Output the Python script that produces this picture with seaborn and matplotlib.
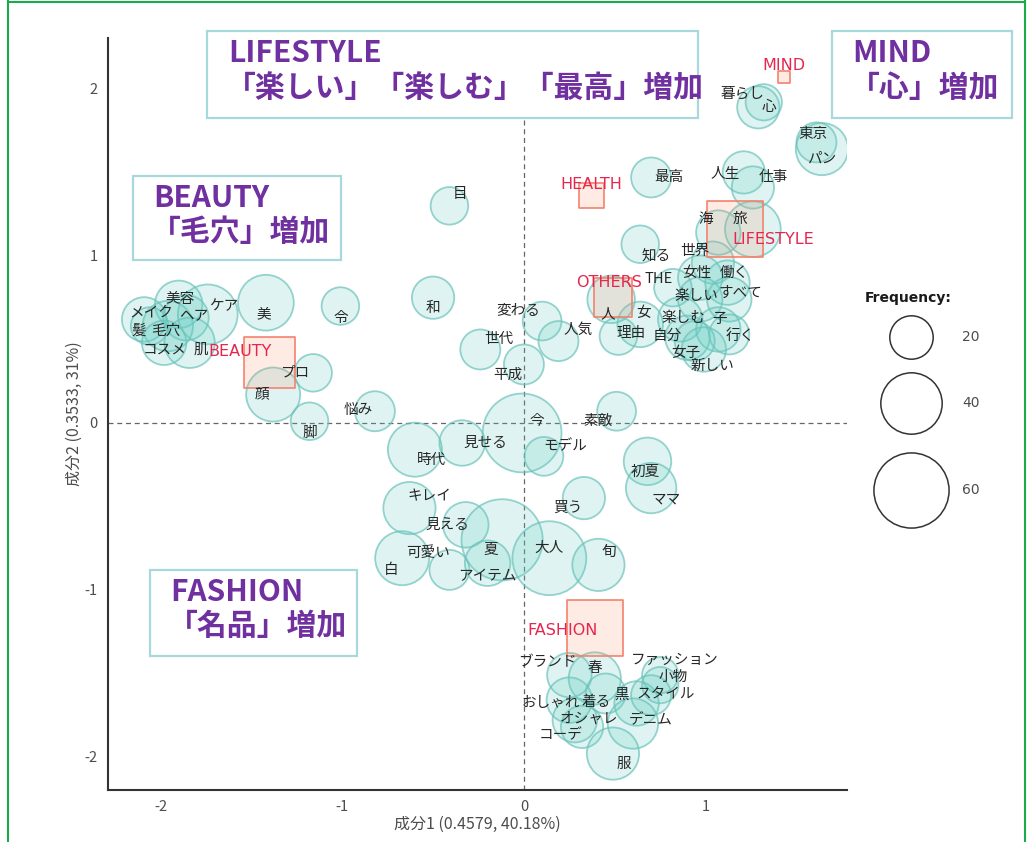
import numpy as np
import pandas as pd
import matplotlib
matplotlib.use("Agg")
import matplotlib.pyplot as plt
import seaborn as sns
from matplotlib.patches import Rectangle
from matplotlib.lines import Line2D


# ---------------------------------------------------------------------
# Data (component scores)
# ---------------------------------------------------------------------
words = ["暮らし", "心", "東京", "パン", "最高", "人生", "仕事", "海", "旅", "知る",
         "世界", "女性", "働く", "THE", "楽しい", "すべて", "人", "女", "理由", "楽しむ",
         "子", "自分", "行く", "女子", "新しい", "目", "美容", "メイク", "ヘア", "髪",
         "毛穴", "コスメ", "肌", "ケア", "美", "令", "和", "プロ", "顔", "脚",
         "悩み", "変わる", "人気", "世代", "平成", "今", "見せる", "時代", "モデル", "素敵",
         "初夏", "ママ", "買う", "キレイ", "見える", "夏", "可愛い", "白", "アイテム", "大人",
         "旬", "ブランド", "春", "おしゃれ", "着る", "黒", "ファッション", "小物", "スタイル", "オシャレ",
         "デニム", "コーデ", "服"]
word_x = [1.29, 1.32, 1.61, 1.64, 0.70, 1.21, 1.26, 1.07, 1.26, 0.64,
          1.04, 0.97, 1.12, 0.82, 0.97, 1.13, 0.48, 0.64, 0.52, 0.86,
          1.07, 0.90, 1.13, 0.94, 0.99, -0.41, -1.90, -2.09, -1.86, -2.06,
          -1.96, -1.98, -1.84, -1.74, -1.42, -1.01, -0.50, -1.16, -1.38, -1.18,
          -0.82, 0.10, 0.19, -0.24, 0.00, -0.01, -0.34, -0.60, 0.11, 0.51,
          0.68, 0.70, 0.33, -0.63, -0.32, -0.12, -0.41, -0.67, -0.20, 0.14,
          0.41, 0.25, 0.39, 0.25, 0.45, 0.62, 0.75, 0.75, 0.70, 0.32,
          0.60, 0.28, 0.49]
word_y = [1.89, 1.92, 1.68, 1.64, 1.47, 1.50, 1.41, 1.14, 1.16, 1.07,
          0.96, 0.87, 0.84, 0.81, 0.74, 0.74, 0.74, 0.59, 0.52, 0.62,
          0.56, 0.51, 0.53, 0.49, 0.44, 1.30, 0.71, 0.62, 0.63, 0.58,
          0.58, 0.48, 0.48, 0.65, 0.72, 0.70, 0.75, 0.30, 0.17, 0.01,
          0.07, 0.61, 0.49, 0.44, 0.35, -0.06, -0.12, -0.16, -0.20, 0.07,
          -0.23, -0.39, -0.45, -0.51, -0.61, -0.70, -0.88, -0.81, -0.84, -0.81,
          -0.85, -1.51, -1.53, -1.66, -1.62, -1.68, -1.51, -1.57, -1.63, -1.82,
          -1.80, -1.78, -1.98]
word_freq = [19, 14, 17, 29, 17, 19, 19, 21, 33, 15,
             19, 21, 21, 15, 21, 21, 24, 22, 15, 21,
             21, 21, 17, 17, 21, 15, 24, 21, 22, 15,
             27, 21, 27, 38, 33, 15, 19, 15, 31, 15,
             17, 16, 17, 17, 17, 66, 22, 31, 16, 16,
             24, 27, 19, 29, 22, 70, 17, 31, 22, 58,
             29, 21, 29, 22, 17, 21, 14, 14, 17, 19,
             27, 21, 29]
label_x = [1.20, 1.35, 1.59, 1.64, 0.80, 1.11, 1.37, 1.00, 1.19, 0.73,
           0.94, 0.95, 1.16, 0.74, 0.95, 1.19, 0.46, 0.66, 0.59, 0.88,
           1.08, 0.79, 1.19, 0.89, 1.04, -0.35, -1.89, -2.05, -1.82, -2.12,
           -1.97, -1.98, -1.78, -1.65, -1.43, -1.01, -0.50, -1.26, -1.44, -1.18,
           -0.91, -0.03, 0.30, -0.14, -0.09, 0.07, -0.21, -0.51, 0.23, 0.41,
           0.67, 0.78, 0.24, -0.52, -0.42, -0.18, -0.53, -0.73, -0.20, 0.14,
           0.47, 0.13, 0.39, 0.15, 0.40, 0.54, 0.83, 0.82, 0.78, 0.36,
           0.70, 0.20, 0.55]
label_y = [1.97, 1.89, 1.73, 1.58, 1.47, 1.49, 1.47, 1.22, 1.22, 1.00,
           1.03, 0.90, 0.90, 0.86, 0.76, 0.78, 0.65, 0.66, 0.54, 0.63,
           0.62, 0.52, 0.52, 0.42, 0.34, 1.37, 0.74, 0.66, 0.64, 0.55,
           0.55, 0.44, 0.44, 0.70, 0.65, 0.63, 0.69, 0.30, 0.17, -0.06,
           0.08, 0.67, 0.56, 0.50, 0.29, 0.01, -0.12, -0.22, -0.14, 0.01,
           -0.29, -0.46, -0.51, -0.44, -0.61, -0.76, -0.78, -0.88, -0.92, -0.75,
           -0.77, -1.43, -1.47, -1.68, -1.67, -1.63, -1.42, -1.52, -1.62, -1.77,
           -1.78, -1.87, -2.04]

cat_names = ["MIND", "HEALTH", "LIFESTYLE", "OTHERS", "BEAUTY", "FASHION"]
cat_x = [1.43, 0.37, 1.16, 0.49, -1.40, 0.39]
cat_y = [2.07, 1.36, 1.16, 0.75, 0.36, -1.23]
cat_n = [1.5, 6.6, 33, 16, 27.5, 33]
cat_label_x = [1.43, 0.37, 1.37, 0.47, -1.56, 0.21]
cat_label_y = [2.14, 1.43, 1.10, 0.84, 0.43, -1.24]

legend_freq = [20, 40, 60]

PT_AREA = 48.8  # marker area (pt^2) per unit of frequency


# ---------------------------------------------------------------------
# Figure
# ---------------------------------------------------------------------
W, H = 1032, 842
sns.set_style("white")
plt.rcParams["font.family"] = ["Noto Sans CJK JP", "DejaVu Sans"]

fig = plt.figure(figsize=(W / 100, H / 100), dpi=100)
ax = fig.add_axes([108 / W, 1 - 790 / H, (847 - 108) / W, (790 - 38) / H])

df = pd.DataFrame({"x": word_x, "y": word_y, "freq": word_freq})
fmin, fmax = min(word_freq), max(word_freq)
sns.scatterplot(data=df, x="x", y="y", size="freq",
                sizes=(PT_AREA * fmin, PT_AREA * fmax), size_norm=(fmin, fmax),
                legend=False, ax=ax, zorder=2, linewidth=1.3)
bubbles = ax.collections[-1]
bubbles.set_facecolor((0.39, 0.80, 0.76, 0.2))
bubbles.set_edgecolor((0.42, 0.76, 0.73, 0.7))

cdf = pd.DataFrame({"x": cat_x, "y": cat_y, "n": cat_n})
cmin, cmax = min(cat_n), max(cat_n)
sns.scatterplot(data=cdf, x="x", y="y", size="n", marker="s",
                sizes=(PT_AREA * cmin, PT_AREA * cmax), size_norm=(cmin, cmax),
                legend=False, ax=ax, zorder=3, linewidth=1.2)
squares = ax.collections[-1]
squares.set_facecolor((0.96, 0.57, 0.43, 0.18))
squares.set_edgecolor("#f4826e")

for w, lx, ly in zip(words, label_x, label_y):
    ax.text(lx, ly, w, ha="center", va="center", fontsize=10.5,
            color="#262626", zorder=5)

for name, lx, ly in zip(cat_names, cat_label_x, cat_label_y):
    ax.text(lx, ly, name, ha="center", va="center", fontsize=11.5,
            color="#e6264f", family="DejaVu Sans", zorder=6)

ax.axhline(0, color="#666666", lw=0.9, ls=(0, (4, 3)), zorder=1)
ax.axvline(0, color="#666666", lw=0.9, ls=(0, (4, 3)), zorder=1)

ax.set_xlim(-2.289, 1.778)
ax.set_ylim(-2.198, 2.305)
ax.set_xticks([-2, -1, 0, 1])
ax.set_yticks([-2, -1, 0, 1, 2])
ax.set_xticklabels(["-2", "-1", "0", "1"])
ax.set_yticklabels(["-2", "-1", "0", "1", "2"])
ax.tick_params(axis="both", direction="out", length=4, width=1,
               color="#333333", labelsize=10.5, labelcolor="#4d4d4d")
ax.set_xlabel("成分1 (0.4579, 40.18%)", fontsize=11.5, color="#4d4d4d", labelpad=1)
ax.set_ylabel("成分2 (0.3533, 31%)", fontsize=11.5, color="#4d4d4d", labelpad=1.5)
for side in ["top", "right"]:
    ax.spines[side].set_visible(False)
for side in ["left", "bottom"]:
    ax.spines[side].set_color("#333333")
    ax.spines[side].set_linewidth(1.5)

# ---------------------------------------------------------------------
# Overlay: annotation boxes, legend, frame (figure pixel coordinates)
# ---------------------------------------------------------------------
ov = fig.add_axes([0, 0, 1, 1])
ov.set_xlim(0, W)
ov.set_ylim(H, 0)
ov.axis("off")
ov.patch.set_alpha(0)

boxes = [
    ((207, 31, 491, 87), "LIFESTYLE", "「楽しい」「楽しむ」「最高」増加", 228, 53, 88),
    ((832, 31, 180, 87), "MIND", "「心」増加", 852, 53, 88),
    ((133, 176, 208, 84), "BEAUTY", "「毛穴」増加", 153, 198, 232),
    ((150, 570, 207, 86), "FASHION", "「名品」増加", 170, 592, 626),
]
for (bx, by, bw, bh), t1, t2, tx, ty1, ty2 in boxes:
    ov.add_patch(Rectangle((bx, by), bw, bh, facecolor="white",
                           edgecolor="#a9d8dc", lw=1.6, zorder=1))
    ov.text(tx, ty1, t1, fontsize=21.5, fontweight="bold", color="#7030a0",
            ha="left", va="center", zorder=2)
    ov.text(tx - 2, ty2, t2, fontsize=21.5, fontweight="bold", color="#7030a0",
            ha="left", va="center", zorder=2)

# size legend
ov.text(865, 298, "Frequency:", fontsize=10, fontweight="bold",
        color="#1a1a1a", family="DejaVu Sans", ha="left", va="center")
for f, cy in zip(legend_freq, [337, 403, 490]):
    ov.scatter([911], [cy], s=PT_AREA * f, facecolor="white",
               edgecolor="#333333", linewidth=1.1)
    ov.text(962, cy, str(f), fontsize=10, color="#4d4d4d",
            family="DejaVu Sans", ha="left", va="center")

# green outer frame
ov.add_line(Line2D([7.5, 7.5], [0, H], color="#1aab4a", lw=1.5))
ov.add_line(Line2D([7.5, 1024.5], [1.5, 1.5], color="#1aab4a", lw=1.5))
ov.add_line(Line2D([1024.5, 1024.5], [0, H], color="#1aab4a", lw=1.5))

fig.savefig("out.png", dpi=100)
